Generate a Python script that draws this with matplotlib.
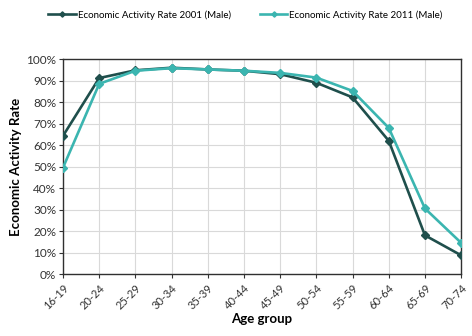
import matplotlib
matplotlib.use("Agg")
import matplotlib.pyplot as plt
from matplotlib.ticker import PercentFormatter

plt.rcParams['font.family'] = ['Lato', 'DejaVu Sans']

age_groups = ["16-19", "20-24", "25-29", "30-34", "35-39", "40-44",
              "45-49", "50-54", "55-59", "60-64", "65-69", "70-74"]
rate_2001 = [64.3, 91.2, 94.8, 96.0, 95.2, 94.6, 93.0, 89.0, 82.2, 62.0, 18.0, 8.7]
rate_2011 = [49.5, 88.5, 94.6, 95.8, 95.2, 94.6, 93.6, 91.4, 85.2, 68.0, 30.5, 14.5]
yticks = list(range(0, 101, 10))

c2001 = "#1f4f4c"
c2011 = "#3bb5b0"

fig = plt.figure(figsize=(4.72, 3.36), dpi=100)
ax = fig.add_axes([0.1335, 0.1845, 0.8435, 0.6395])

x = list(range(len(age_groups)))
l1, = ax.plot(x, rate_2001, color=c2001, lw=1.9, marker="D", ms=4.5,
              label="Economic Activity Rate 2001 (Male)", zorder=3)
l2, = ax.plot(x, rate_2011, color=c2011, lw=1.9, marker="D", ms=4.5,
              label="Economic Activity Rate 2011 (Male)", zorder=3)

ax.set_xlim(0, len(age_groups) - 1)
ax.set_ylim(0, 100)
ax.set_yticks(yticks)
ax.yaxis.set_major_formatter(PercentFormatter(decimals=0))
ax.set_xticks(x)
ax.set_xticklabels(age_groups, rotation=45, ha="right", rotation_mode="anchor")
ax.tick_params(axis="y", labelsize=8.5, colors="#333333", length=3,
               width=0.8, direction="out", pad=2)
ax.tick_params(axis="x", labelsize=8, colors="#333333", length=3,
               width=0.8, direction="out", pad=3)
ax.grid(True, color="#d9d9d9", lw=0.8)
ax.set_axisbelow(True)
for s in ax.spines.values():
    s.set_color("#303030")
    s.set_linewidth(1.0)

ax.set_xlabel("Age group", fontsize=9.5, fontweight="bold", labelpad=1)
ax.set_ylabel("Economic Activity Rate", fontsize=9.5, fontweight="bold", labelpad=3)

fig.legend(handles=[l1, l2], loc="center", bbox_to_anchor=(0.52, 0.955), ncol=2,
           frameon=False, fontsize=7, handlelength=2.8, columnspacing=3.0,
           handletextpad=0.2, markerscale=0.6)

fig.savefig("out.png", dpi=100)
